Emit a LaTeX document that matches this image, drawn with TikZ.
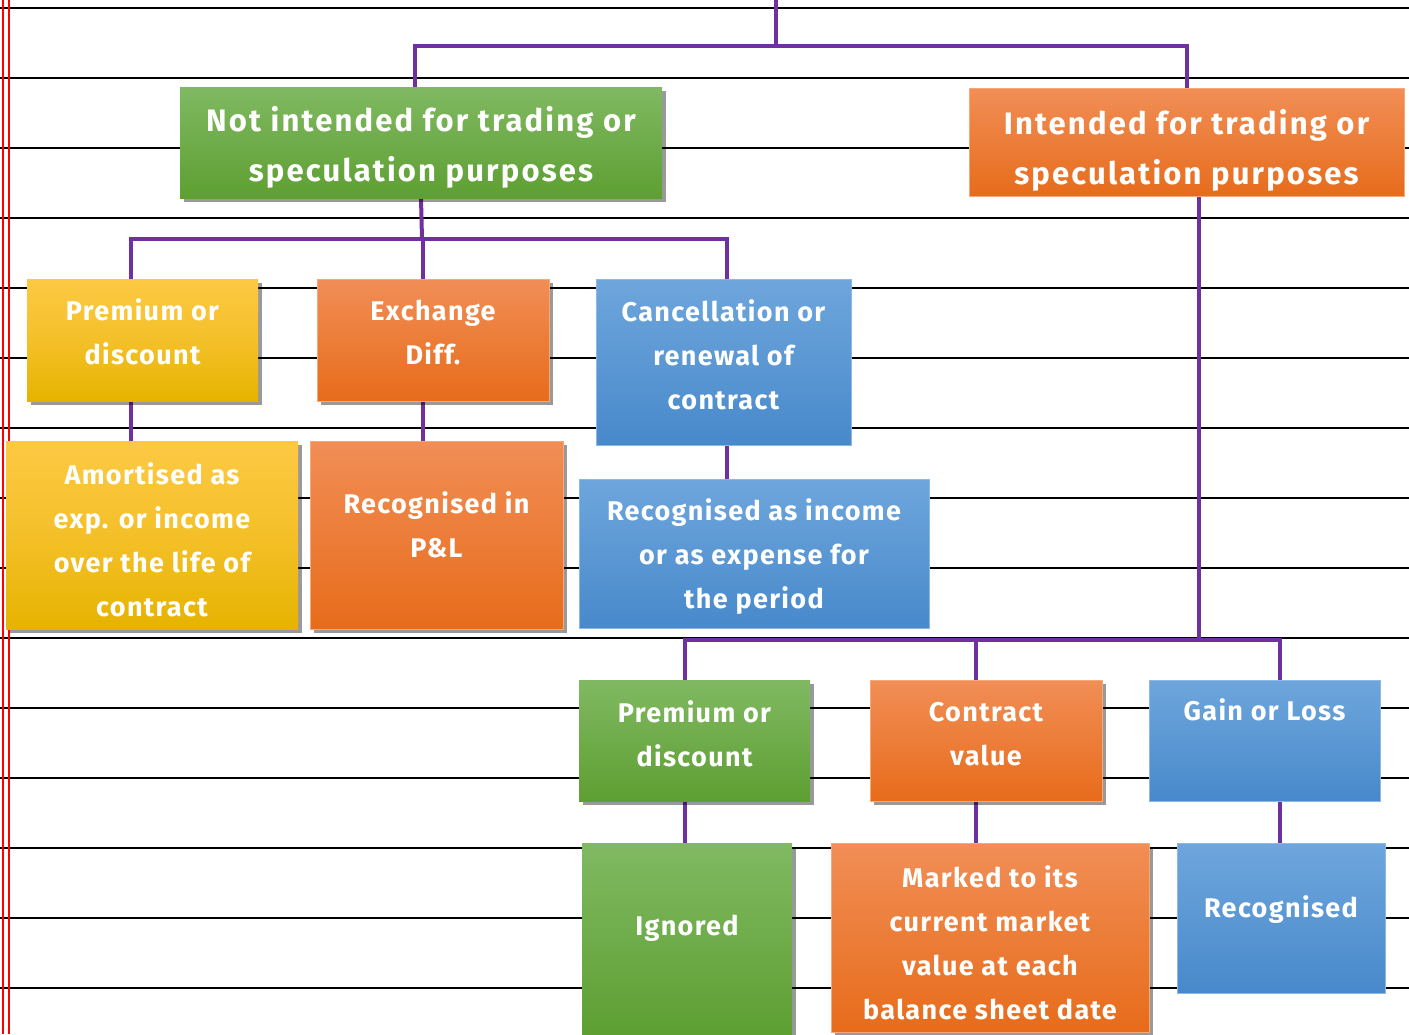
\documentclass[tikz,border=0pt]{standalone}
\usepackage{fontspec}
\setmainfont{Fira Sans}
\usepackage{tikz}
\usetikzlibrary{calc,positioning,shadows,backgrounds}
\definecolor{rule}{HTML}{000000}
\definecolor{margin}{HTML}{FF0000}
\definecolor{link}{HTML}{7030A0}
\definecolor{greentop}{HTML}{80B962}
\definecolor{greenbot}{HTML}{5E9F32}
\definecolor{yellowtop}{HTML}{FDC944}
\definecolor{yellowbot}{HTML}{E6B300}
\definecolor{orangetop}{HTML}{F18E56}
\definecolor{orangebot}{HTML}{E76C1B}
\definecolor{orangeline}{HTML}{F5A878}
\definecolor{bluetop}{HTML}{6EA6DC}
\definecolor{bluebot}{HTML}{4889CB}
\definecolor{blueline}{HTML}{8DB8E6}

\tikzset{
  box/.style={rectangle, inner sep=0pt},
  shade/.style={drop shadow={shadow xshift=4pt, shadow yshift=-4pt, opacity=.4, fill=black}},
  greenbox/.style={box, top color=greentop, bottom color=greenbot, shade},
  yellowbox/.style={box, top color=yellowtop, bottom color=yellowbot, middle color=yellowtop!60!yellowbot, shade},
  orangebox/.style={box, top color=orangetop, bottom color=orangebot, draw=orangeline, line width=1pt},
  bluebox/.style={box, top color=bluetop, bottom color=bluebot, draw=blueline, line width=1pt},
  txt/.style={text=white, align=center, font=\fontsize{27}{44}\selectfont\bfseries\addfontfeature{LetterSpace=5}},
  bigtxt/.style={txt, font=\fontsize{31}{50}\selectfont\bfseries\addfontfeature{LetterSpace=7}},
  link/.style={draw=link, line width=4pt},
}

\begin{document}
\begin{tikzpicture}[x=1pt, y=-1pt]
  \useasboundingbox (0,0) rectangle (1409,1034);

  % boxes
  \node[greenbox, minimum width=482pt, minimum height=111pt] (nt) at (421,142.5) {};
  \node[orangebox, minimum width=435pt, minimum height=108pt] (it) at (1186.5,142) {};

  \node[yellowbox, minimum width=231pt, minimum height=122pt] (pd1) at (142.5,340) {};
  \node[orangebox, shade, minimum width=232pt, minimum height=122pt] (ex) at (433,340) {};
  \node[bluebox, minimum width=255pt, minimum height=166pt] (cr) at (723.5,362) {};

  \node[yellowbox, minimum width=292pt, minimum height=188pt] (am) at (152,535) {};
  \node[orangebox, shade, minimum width=253pt, minimum height=188pt] (pl) at (436.5,535) {};
  \node[bluebox, minimum width=350pt, minimum height=149pt] (ri) at (754,553.5) {};

  \node[greenbox, minimum width=231pt, minimum height=121pt] (pd2) at (694.5,740.5) {};
  \node[orangebox, shade, minimum width=232pt, minimum height=121pt] (cv) at (986,740.5) {};
  \node[bluebox, minimum width=231pt, minimum height=121pt] (gl) at (1264.5,740.5) {};

  \node[greenbox, minimum width=210pt, minimum height=191pt] (ig) at (687,938.5) {};
  \node[orangebox, shade, minimum width=318pt, minimum height=189pt] (mk) at (990,937.5) {};
  \node[bluebox, minimum width=208pt, minimum height=150pt] (rc) at (1281,918) {};

  % texts
  \node[bigtxt] (nt-t) at ([yshift=-5pt]nt.center) {Not intended for trading or\\speculation purposes};
  \node[bigtxt] (it-t) at ([yshift=-8pt]it.center) {Intended for trading or\\speculation purposes};
  \node[txt] (pd1-t) at ([yshift=8pt]pd1.center) {Premium or\\discount};
  \node[txt] (ex-t) at ([yshift=8pt]ex.center) {Exchange\\Diff.};
  \node[txt] (cr-t) at ([yshift=7pt]cr.center) {Cancellation or\\renewal of\\contract};
  \node[txt] (am-t) at ([yshift=-5pt]am.center) {Amortised as\\exp. or income\\over the life of\\contract};
  \node[txt] (pl-t) at ([yshift=10pt]pl.center) {Recognised in\\P\&L};
  \node[txt] (ri-t) at ([yshift=-3pt]ri.center) {Recognised as income\\or as expense for\\the period};
  \node[txt] (pd2-t) at ([yshift=7pt]pd2.center) {Premium or\\discount};
  \node[txt] (cv-t) at ([yshift=6pt]cv.center) {Contract\\value};
  \node[txt, anchor=north] (gl-t) at ([yshift=-16pt]gl.north) {Gain or Loss};
  \node[txt] (ig-t) at ([yshift=10pt]ig.center) {Ignored};
  \node[txt] (mk-t) at ([yshift=-5pt]mk.center) {Marked to its\\current market\\value at each\\balance sheet date};
  \node[txt] (rc-t) at ([yshift=8pt]rc.center) {Recognised};

  \begin{pgfonlayer}{background}
    % notebook paper
    \foreach \k in {0,...,14}
      \draw[rule, line width=2pt] (0,8+70*\k) -- (1409,8+70*\k);
    \draw[margin, line width=1.2pt] (3,0) -- (3,1034);
    \draw[margin, line width=1.2pt] (9,0) -- (9,1034);

    % connectors
    \coordinate (top) at (776,0);
    \coordinate (j0) at (776,46);
    \coordinate (j1) at (422,239);
    \coordinate (j2) at (1199,640);
    \draw[link] (top) -- (j0);
    \draw[link] ([xshift=-6pt]nt.north) |- (j0) -| (it.north);

    \draw[link] (nt.south) -- (j1);
    \draw[link] ([xshift=-11.5pt]pd1.north) |- (j1) -| ([xshift=3.5pt]cr.north);
    \draw[link] ([xshift=-10pt]ex.north) -- ([xshift=-10pt]ex.north |- j1);
    \draw[link] ([xshift=-11.5pt]pd1.south) coordinate (p1) -- (p1 |- am.north);
    \draw[link] ([xshift=-10pt]ex.south) coordinate (p2) -- (p2 |- pl.north);
    \draw[link] ([xshift=3.5pt]cr.south) coordinate (p3) -- (p3 |- ri.north);

    \draw[link] ([xshift=12.5pt]it.south) -- (j2);
    \draw[link] ([xshift=-9.5pt]pd2.north) |- (j2) -| ([xshift=15.5pt]gl.north);
    \draw[link] ([xshift=-10pt]cv.north) -- ([xshift=-10pt]cv.north |- j2);
    \draw[link] ([xshift=-9.5pt]pd2.south) coordinate (p4) -- (p4 |- ig.north);
    \draw[link] ([xshift=-10pt]cv.south) coordinate (p5) -- (p5 |- mk.north);
    \draw[link] ([xshift=15.5pt]gl.south) coordinate (p6) -- (p6 |- rc.north);
  \end{pgfonlayer}
\end{tikzpicture}
\end{document}
